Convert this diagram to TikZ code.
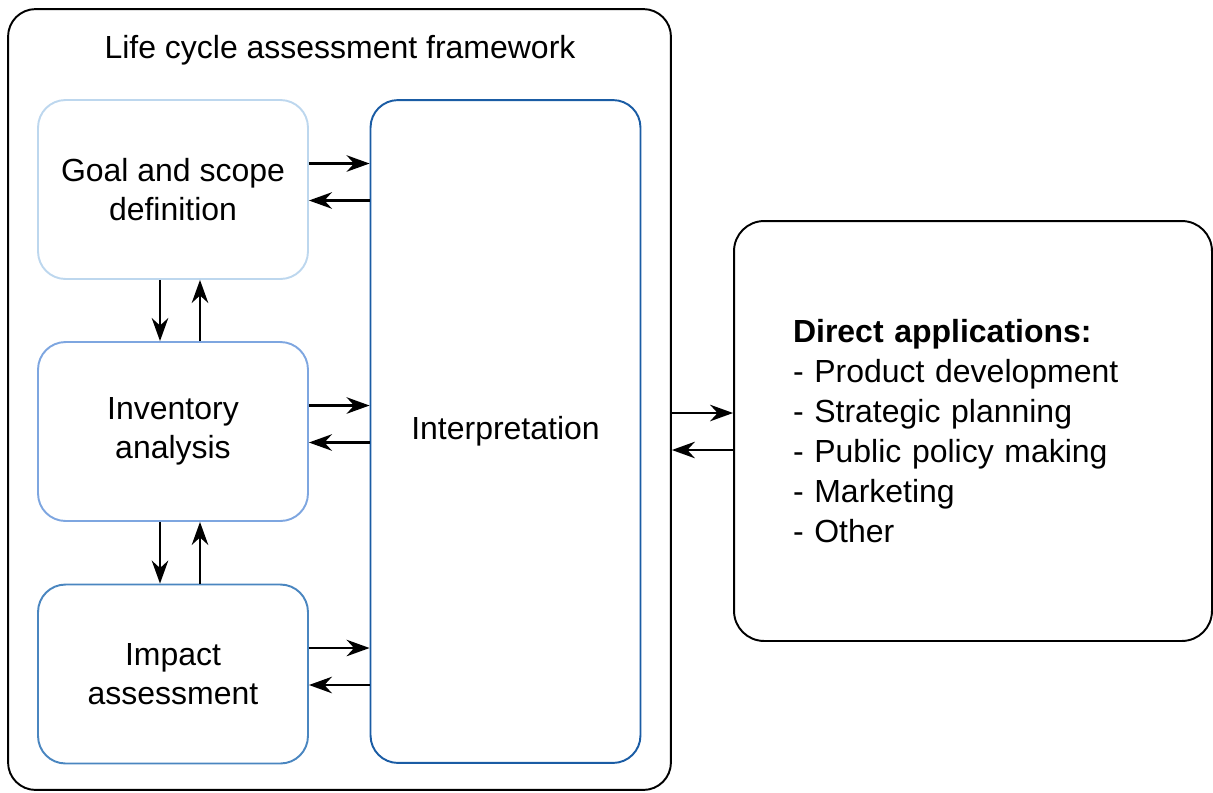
\documentclass[tikz,border=0pt]{standalone}
\usepackage{fontspec}
\setmainfont{Liberation Sans}
\usepackage{xcolor}
\definecolor{goalBlue}{HTML}{BDD7EE}
\definecolor{inventoryBlue}{HTML}{7EA6E0}
\definecolor{impactBlue}{HTML}{4A86C0}
\definecolor{interpBlue}{HTML}{1A5CA4}
\usepackage{tikz}
\usetikzlibrary{arrows.meta}
\tikzset{arrow/.style = {> = {Stealth[length = 4.6mm, width = 3.3mm, inset = 1.5mm]}, line width = 1.3pt}}
\tikzset{stage/.style = {draw, line width = 1.1pt, rounded corners = 0.55cm, align = center,
		minimum width = 5.4cm, minimum height = 3.58cm}}
\usetikzlibrary{positioning}

\begin{document}
\begin{tikzpicture}[x = 0.02cm, y = -0.02cm, font = \fontsize{18.2}{22.5}\selectfont]
	\useasboundingbox (0, 0) rectangle (1213, 792);

	%% Framework
	\node[draw, line width = 1.1pt, rounded corners = 0.55cm, minimum width = 13.26cm,
		minimum height = 15.62cm] (lca) at (339.5, 399.5) {};
	\node (title) at (340, 50) {Life cycle assessment framework};

	%% Phases
	\node[stage, draw = goalBlue] (goal) at (173, 189.5) {Goal and scope\\definition};
	\node[stage, draw = inventoryBlue] (inv) at (173, 431.5) {Inventory\\analysis};
	\node[stage, draw = impactBlue] (impact) at (173, 674) {Impact\\assessment};

	\node[stage, draw = interpBlue, minimum height = 13.26cm] (interp) at (505.5, 431.5) {Interpretation};

	%% Applications
	\node[draw, line width = 1.1pt, rounded corners = 0.6cm, minimum width = 9.56cm,
		minimum height = 8.4cm, inner xsep = 1.18cm, text width = 7.2cm, align = left,
		font = \fontsize{18.2}{22.7}\selectfont] (apps) at (973, 431)
		{\textbf{Direct applications:}\\- Product development\\- Strategic planning\\- Public policy making\\- Marketing\\- Other};

	%% Arrows to and from interpretation
	\foreach \phase in {goal, inv, impact} {
		\draw[arrow, ->] ([yshift = 0.52cm]\phase.east) -- ([yshift = 0.52cm]\phase.east -| interp.west);
		\draw[arrow, ->] ([yshift = -0.22cm]\phase.east -| interp.west) -- ([yshift = -0.22cm]\phase.east);
	}

	%% Arrows between phases
	\draw[arrow, ->] ([xshift = -0.26cm]goal.south) -- ([xshift = -0.26cm]inv.north);
	\draw[arrow, ->] ([xshift = 0.54cm]inv.north) -- ([xshift = 0.54cm]goal.south);
	\draw[arrow, ->] ([xshift = -0.26cm]inv.south) -- ([xshift = -0.26cm]impact.north);
	\draw[arrow, ->] ([xshift = 0.54cm]impact.north) -- ([xshift = 0.54cm]inv.south);

	%% Arrows to and from applications
	\coordinate (appin) at ([yshift = 0.36cm]apps.west);
	\coordinate (appout) at ([yshift = -0.38cm]apps.west);
	\draw[arrow, ->] (lca.east |- appin) -- (appin);
	\draw[arrow, ->] (appout) -- (lca.east |- appout);

\end{tikzpicture}
\end{document}
